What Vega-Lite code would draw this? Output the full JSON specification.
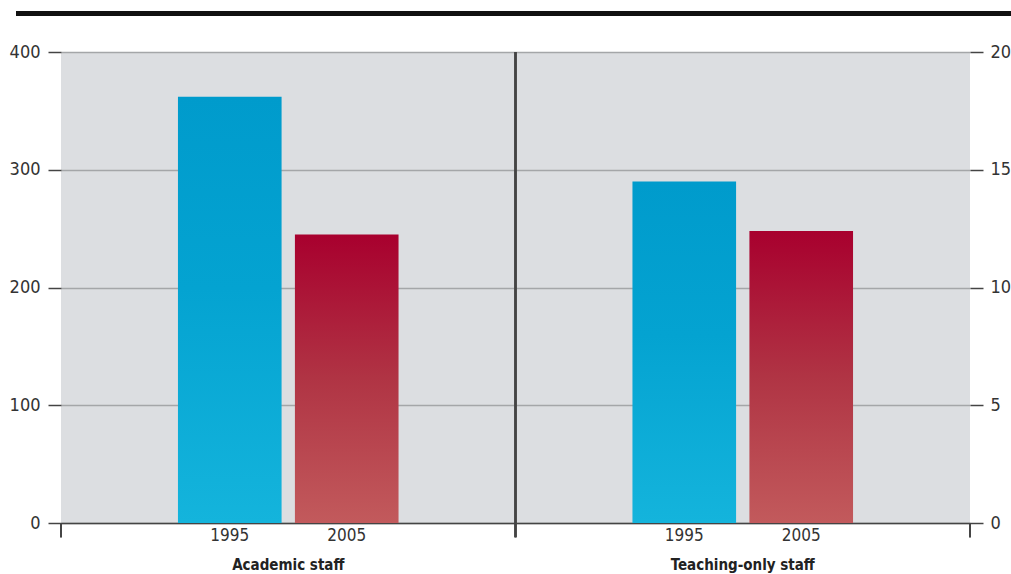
{
  "$schema": "https://vega.github.io/schema/vega-lite/v6.json",
  "autosize": "none",
  "width": 909,
  "height": 471,
  "padding": {"left": 61, "top": 52, "right": 41, "bottom": 51},
  "background": "#ffffff",
  "config": {
    "view": {"fill": "#dcdee1", "stroke": null},
    "font": "DejaVu Sans Condensed, Roboto, sans-serif",
    "axis": {"labelFont": "DejaVu Sans Condensed, Roboto, sans-serif", "titleFont": "DejaVu Sans Condensed, Roboto, sans-serif"}
  },
  "data": {
    "values": [
      {"group": "Academic staff", "year": "1995", "value": 362},
      {"group": "Academic staff", "year": "2005", "value": 245},
      {"group": "Teaching-only staff", "year": "1995", "value": 14.5},
      {"group": "Teaching-only staff", "year": "2005", "value": 12.4}
    ]
  },
  "encoding": {
    "x": {
      "field": "group",
      "type": "nominal",
      "sort": ["Academic staff", "Teaching-only staff"],
      "scale": {"paddingInner": 0, "paddingOuter": 0},
      "axis": {
        "title": null,
        "ticks": false,
        "labelAngle": 0,
        "labelFontSize": 15,
        "labelFontWeight": "bold",
        "labelColor": "#222222",
        "labelPadding": 34,
        "domainColor": "#444444",
        "domainWidth": 1.5
      }
    }
  },
  "layer": [
    {
      "layer": [
        {
          "transform": [{"filter": "datum.group == 'Academic staff'"}],
          "mark": {"type": "bar"},
          "encoding": {
            "xOffset": {"field": "year", "type": "nominal", "scale": {"paddingInner": 0.114, "paddingOuter": 1.05}},
            "y": {
              "field": "value",
              "type": "quantitative",
              "scale": {"domain": [0, 400], "nice": false},
              "axis": {
                "title": null,
                "values": [0, 100, 200, 300, 400],
                "grid": true,
                "gridColor": "#a4a6a8",
                "gridWidth": 1.5,
                "domain": false,
                "tickSize": 13,
                "tickColor": "#444444",
                "tickWidth": 1.5,
                "labelFontSize": 18,
                "labelColor": "#333333",
                "labelPadding": 8
              }
            },
            "fill": {
              "condition": {
                "test": "datum.year == '1995'",
                "value": {"gradient": "linear", "x1": 0, "y1": 0, "x2": 0, "y2": 1,
                  "stops": [{"offset": 0, "color": "#009bcc"}, {"offset": 0.45, "color": "#04a3d1"}, {"offset": 1, "color": "#14b4dc"}]}
              },
              "value": {"gradient": "linear", "x1": 0, "y1": 0, "x2": 0, "y2": 1,
                "stops": [{"offset": 0, "color": "#a8002e"}, {"offset": 0.5, "color": "#b03444"}, {"offset": 1, "color": "#c25a5c"}]}
            }
          }
        },
        {
          "mark": {"type": "text", "baseline": "top", "dy": 5, "fontSize": 17, "color": "#333333"},
          "encoding": {
            "xOffset": {"field": "year", "type": "nominal"},
            "y": {"datum": 0, "scale": {"domain": [0, 400], "nice": false}},
            "text": {"field": "year"}
          }
        },
        {
          "mark": {"type": "rule", "color": "#444444", "strokeWidth": 2},
          "encoding": {
            "x": {"datum": "Teaching-only staff", "bandPosition": 0},
            "y": {"datum": 400, "scale": {"domain": [0, 400], "nice": false}},
            "y2": {"datum": -12}
          }
        },
        {
          "mark": {"type": "rule", "color": "#444444", "strokeWidth": 1.5},
          "encoding": {
            "x": {"datum": "Academic staff", "bandPosition": 0},
            "y": {"datum": 0, "scale": {"domain": [0, 400], "nice": false}},
            "y2": {"datum": -12}
          }
        },
        {
          "mark": {"type": "rule", "color": "#444444", "strokeWidth": 1.5},
          "encoding": {
            "x": {"datum": "Teaching-only staff", "bandPosition": 1},
            "y": {"datum": 0, "scale": {"domain": [0, 400], "nice": false}},
            "y2": {"datum": -12}
          }
        },
        {
          "mark": {"type": "rule", "color": "#111111", "strokeWidth": 4.5},
          "encoding": {
            "x": {"datum": "Academic staff", "bandPosition": -0.099},
            "x2": {"datum": "Teaching-only staff", "bandPosition": 1.09},
            "y": {"datum": 432.7, "scale": {"domain": [0, 400], "nice": false}}
          }
        }
      ]
    },
    {
      "transform": [{"filter": "datum.group == 'Teaching-only staff'"}],
      "mark": {"type": "bar"},
      "encoding": {
        "xOffset": {"field": "year", "type": "nominal", "scale": {"paddingInner": 0.114, "paddingOuter": 1.05}},
        "y": {
          "field": "value",
          "type": "quantitative",
          "scale": {"domain": [0, 20], "nice": false},
          "axis": {
            "title": null,
            "orient": "right",
            "values": [0, 5, 10, 15, 20],
            "grid": false,
            "domain": false,
            "tickSize": 13,
            "tickColor": "#444444",
            "tickWidth": 1.5,
            "labelFontSize": 18,
            "labelColor": "#333333",
            "labelPadding": 7
          }
        },
        "fill": {
          "condition": {
            "test": "datum.year == '1995'",
            "value": {"gradient": "linear", "x1": 0, "y1": 0, "x2": 0, "y2": 1,
              "stops": [{"offset": 0, "color": "#009bcc"}, {"offset": 0.45, "color": "#04a3d1"}, {"offset": 1, "color": "#14b4dc"}]}
          },
          "value": {"gradient": "linear", "x1": 0, "y1": 0, "x2": 0, "y2": 1,
            "stops": [{"offset": 0, "color": "#a8002e"}, {"offset": 0.5, "color": "#b03444"}, {"offset": 1, "color": "#c25a5c"}]}
        }
      }
    }
  ],
  "resolve": {"scale": {"y": "independent"}, "axis": {"y": "independent"}}
}
